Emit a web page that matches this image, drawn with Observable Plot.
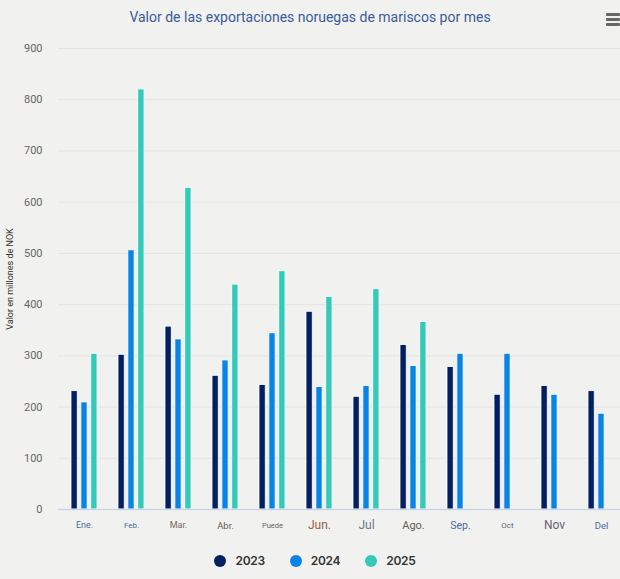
<!DOCTYPE html>
<html>
<head>
<meta charset="utf-8">
<script src="https://cdn.jsdelivr.net/npm/d3@7"></script>
<script src="https://cdn.jsdelivr.net/npm/@observablehq/plot@0.6"></script>
<style>
  html, body { margin: 0; padding: 0; background: #f1f2ef; overflow: hidden; }
  #wrap { position: relative; width: 620px; height: 579px; font-family: Roboto, sans-serif; overflow: hidden; }
  #title { height: 35px; line-height: 34px; text-align: center; font-size: 14px; color: #3a5b9a; }
  #menu { position: absolute; right: 0; top: 13px; width: 14px; z-index: 2; }
  #menu div { height: 3px; background: #666; margin-bottom: 2px; border-radius: 1px; }
  #chart { height: 504px; }
  #chart svg { max-width: none !important; display: block; }
  #legend { display: flex; justify-content: center; align-items: center; gap: 25px; height: 42px; padding-left: 10px;
            font-family: Inter, sans-serif; font-size: 12px; font-weight: 600; color: #333; letter-spacing: -0.3px; }
  #legend span.sw { display: inline-block; width: 12px; height: 12px; border-radius: 50%; margin-right: 9px; vertical-align: -2px; }
</style>
</head>
<body>
<div id="wrap">
  <div id="title">Valor de las exportaciones noruegas de mariscos por mes</div>
  <div id="menu"><div></div><div></div><div></div></div>
  <div id="chart"></div>
  <div id="legend"></div>
</div>
<script>
// meses (etiquetas tal como aparecen en el gráfico)
const months = ["Ene.", "Feb.", "Mar.", "Abr.", "Puede", "Jun.", "Jul", "Ago.", "Sep.", "Oct", "Nov", "Del"]
const years = ["2023", "2024", "2025"]
const colors = ["#02205f", "#0a84e4", "#35c9b8"]

// millones de NOK
const v2023 = [231, 302, 357, 261, 243, 386, 220, 321, 278, 224, 241, 231]
const v2024 = [209, 506, 332, 291, 344, 239, 241, 280, 304, 304, 224, 187]
const v2025 = [304, 820, 628, 439, 465, 415, 430, 366]

// estilo de cada etiqueta del eje x (el original las muestra distintas)
const labelSizes = [9, 8, 9, 9.5, 7.5, 12, 12, 11, 10.5, 8, 12, 9.5]
const labelColors = ["#4a6a9c", "#4a6a9c", "#7a6464", "#6a5858", "#666666", "#9a5e3c",
                     "#6a7596", "#6a5a5a", "#4a6aa0", "#5a6a80", "#6a6070", "#4a6a9c"]

const series = [v2023, v2024, v2025].map((vals, i) =>
  vals.map((v, j) => ({month: months[j], year: years[i], value: v})))

// geometría de columnas agrupadas dentro de cada banda del mes
const W = 628, ML = 58, MR = 0, padIn = 0.44
const bw = (W - ML - MR) / months.length * (1 - padIn)
const slot = bw / (3 - 0.31), colW = slot * 0.69

let chart = Plot.plot({
  width: W,
  height: 504,
  marginTop: 13,
  marginBottom: 30,
  marginLeft: ML,
  marginRight: MR,
  style: {background: "transparent", fontFamily: "Roboto, sans-serif", maxWidth: "none"},
  x: {domain: months, paddingInner: padIn, paddingOuter: 0.22, axis: null},
  y: {domain: [0, 900], ticks: d3.range(0, 901, 100)},
  color: {domain: years, range: colors},
  marks: [
    Plot.gridY(d3.range(100, 901, 100), {stroke: "#e3e4e2", strokeOpacity: 1, strokeWidth: 1}),
    Plot.axisY(d3.range(0, 901, 100), {tickSize: 0, tickPadding: 16, fontSize: 11, color: "#666", label: null}),
    Plot.axisY({ticks: [], label: "Valor en millones de NOK", labelAnchor: "center", labelArrow: "none",
                labelOffset: 52, fontSize: 9, color: "#333"}),
    ...series.map((s, i) => Plot.barY(s, {
      x: "month", y: "value", fill: "year", stroke: "white", strokeWidth: 0.8,
      insetLeft: i * slot, insetRight: bw - i * slot - colW
    })),
    Plot.ruleY([0], {stroke: "#ccd6eb", strokeWidth: 1.5}),
    ...months.map((m, i) => Plot.text([m], {
      x: d => d, text: d => d, frameAnchor: "bottom", dy: 16, lineAnchor: "middle",
      fontSize: labelSizes[i], fill: labelColors[i]
    }))
  ]
})
d3.select('#chart').append(() => chart)

// leyenda
const legend = d3.select('#legend')
years.forEach((y, i) => {
  const item = legend.append('div')
  item.append('span').attr('class', 'sw').style('background', colors[i])
  item.append('span').text(y)
})
</script>
</body>
</html>
